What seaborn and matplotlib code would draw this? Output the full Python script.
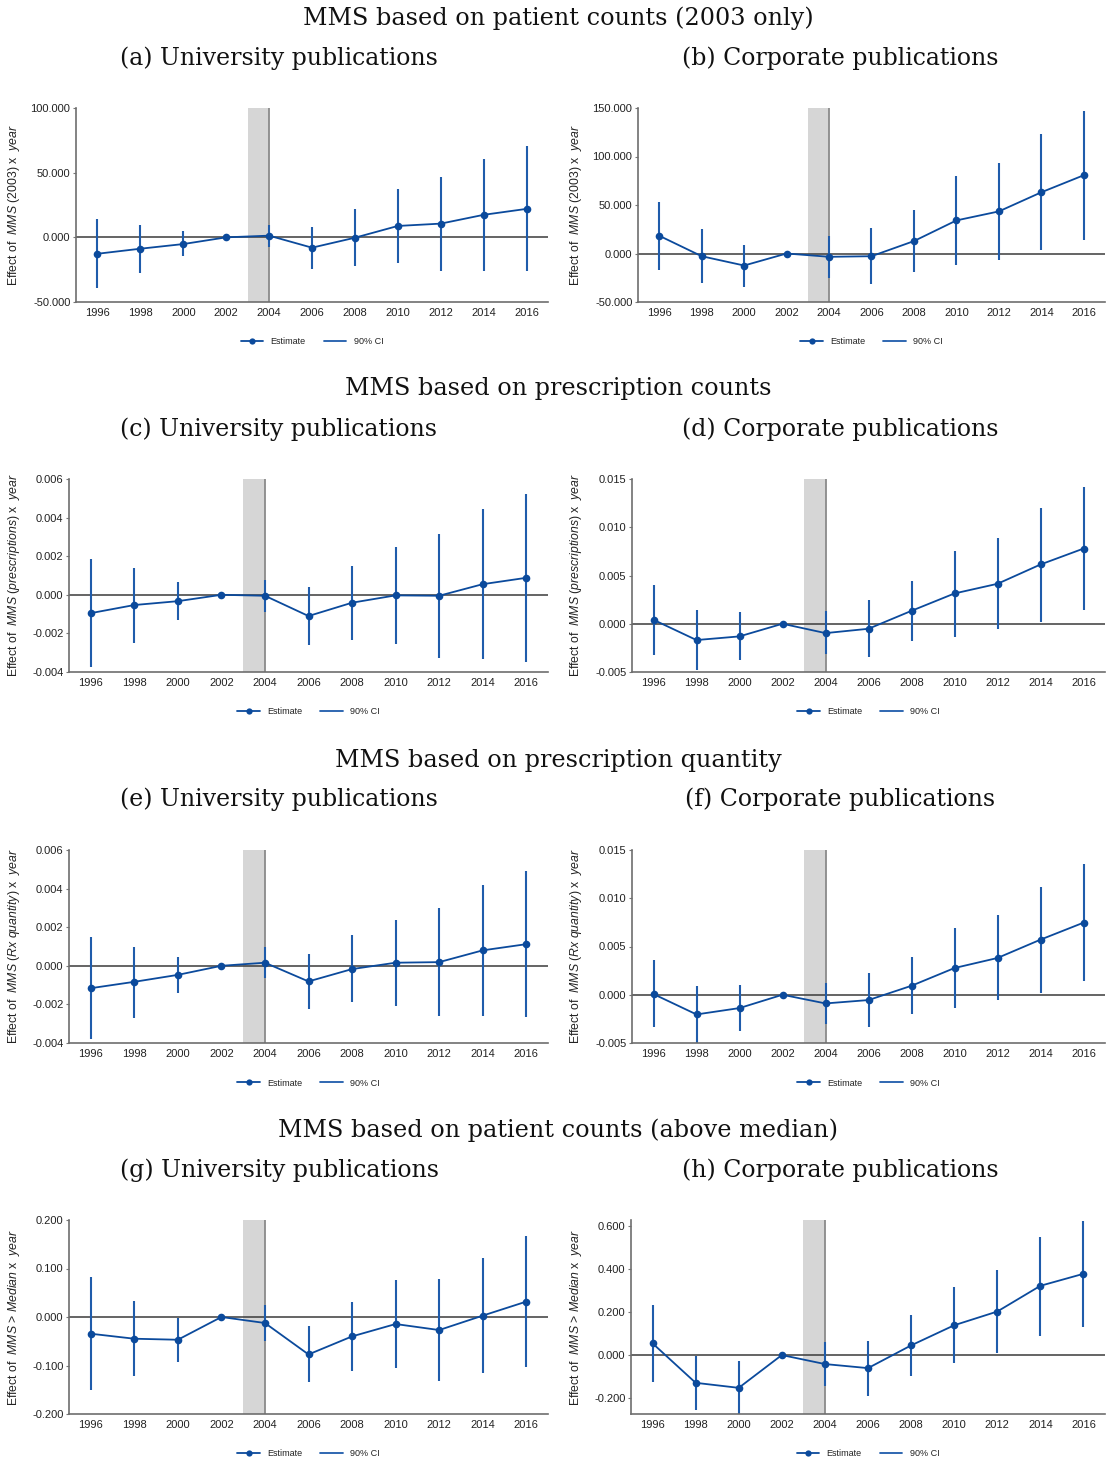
import numpy as np
import pandas as pd
import seaborn as sns
import matplotlib
matplotlib.use("Agg")
import matplotlib.pyplot as plt
import matplotlib.transforms as mtransforms
from matplotlib.lines import Line2D
from matplotlib.ticker import FormatStrFormatter, FixedLocator

# Event-study coefficients (relative to 2002) with 90% confidence bounds
years = [1996, 1998, 2000, 2002, 2004, 2006, 2008, 2010, 2012, 2014, 2016]

# (a) patient counts 2003, university
a_est = [-12.7, -8.8, -5.2, 0, 1.3, -8.0, -0.3, 8.8, 10.6, 17.4, 22.0]
a_lo = [-39.4, -27.5, -14.8, 0, -7.8, -24.4, -21.8, -20.0, -26.2, -26.2, -26.2]
a_hi = [14.0, 9.8, 4.7, 0, 9.8, 8.0, 21.8, 37.6, 46.9, 60.4, 70.7]

# (b) patient counts 2003, corporate
b_est = [18.3, -2.8, -12.4, 0, -3.4, -2.8, 12.8, 34.1, 43.4, 63.1, 80.7]
b_lo = [-16.9, -30.3, -34.1, 0, -25.2, -31.4, -19.0, -11.7, -6.2, 3.1, 14.1]
b_hi = [53.1, 25.2, 9.0, 0, 17.9, 26.2, 44.8, 80.0, 93.1, 123.4, 147.2]

# (c) prescription counts, university
c_est = [-0.00095, -0.00053, -0.00033, 0, -0.00005, -0.0011, -0.00041, -0.00003, -0.00005, 0.00055, 0.00088]
c_lo = [-0.00374, -0.00252, -0.00131, 0, -0.00088, -0.0026, -0.00233, -0.00255, -0.00328, -0.00333, -0.00348]
c_hi = [0.00183, 0.00141, 0.00066, 0, 0.00076, 0.00038, 0.0015, 0.00247, 0.00317, 0.00445, 0.00524]

# (d) prescription counts, corporate
d_est = [0.00041, -0.00169, -0.00131, 0, -0.00097, -0.00052, 0.00134, 0.00314, 0.00414, 0.00614, 0.00779]
d_lo = [-0.0032, -0.0048, -0.0038, 0, -0.00317, -0.00348, -0.00183, -0.00134, -0.00059, 0.0002, 0.00138]
d_hi = [0.00403, 0.00141, 0.00117, 0, 0.00128, 0.00241, 0.00445, 0.00759, 0.00886, 0.012, 0.0142]

# (e) prescription quantity, university
e_est = [-0.00116, -0.00083, -0.00047, 0, 0.00016, -0.00081, -0.00017, 0.00016, 0.00019, 0.0008, 0.00112]
e_lo = [-0.00379, -0.0027, -0.00142, 0, -0.00064, -0.00223, -0.00185, -0.00209, -0.00261, -0.00258, -0.00265]
e_hi = [0.0015, 0.001, 0.00047, 0, 0.00095, 0.00059, 0.00157, 0.00239, 0.00301, 0.00417, 0.00491]

# (f) prescription quantity, corporate
f_est = [0.00007, -0.00204, -0.00138, 0, -0.0009, -0.00055, 0.00093, 0.00277, 0.00381, 0.00571, 0.00747]
f_lo = [-0.00339, -0.0051, -0.00377, 0, -0.00304, -0.00336, -0.00204, -0.00142, -0.00059, 0.00017, 0.00142]
f_hi = [0.00356, 0.0009, 0.00097, 0, 0.00121, 0.00225, 0.00388, 0.00696, 0.00824, 0.01118, 0.01353]

# (g) patient counts above median, university
g_est = [-0.0345, -0.0448, -0.0469, 0, -0.0124, -0.0772, -0.040, -0.0145, -0.0269, 0.0028, 0.0317]
g_lo = [-0.150, -0.122, -0.0938, 0, -0.049, -0.1345, -0.111, -0.105, -0.1317, -0.1145, -0.1028]
g_hi = [0.0828, 0.0331, -0.0014, 0, 0.0248, -0.0193, 0.0317, 0.0759, 0.078, 0.1207, 0.1676]

# (h) patient counts above median, corporate
h_est = [0.0546, -0.1295, -0.153, 0, -0.042, -0.061, 0.045, 0.139, 0.203, 0.323, 0.379]
h_lo = [-0.126, -0.256, -0.2746, 0, -0.1435, -0.189, -0.10, -0.039, 0.0078, 0.089, 0.1295]
h_hi = [0.234, -0.003, -0.0296, 0, 0.059, 0.064, 0.189, 0.318, 0.399, 0.551, 0.627]

row_titles = [
    "MMS based on patient counts (2003 only)",
    "MMS based on prescription counts",
    "MMS based on prescription quantity",
    "MMS based on patient counts (above median)",
]
sub_titles = [
    "(a) University publications", "(b) Corporate publications",
    "(c) University publications", "(d) Corporate publications",
    "(e) University publications", "(f) Corporate publications",
    "(g) University publications", "(h) Corporate publications",
]
y_labels = [
    r"Effect of  $\mathit{MMS\ (2003)}$ x  $\mathit{year}$",
    r"Effect of  $\mathit{MMS\ (prescriptions)}$ x  $\mathit{year}$",
    r"Effect of  $\mathit{MMS\ (Rx\ quantity)}$ x  $\mathit{year}$",
    r"Effect of  $\mathit{MMS}$ > $\mathit{Median}$ x  $\mathit{year}$",
]
legend_labels = ["Estimate", "90% CI"]

sns.set_theme(style="white")
plt.rcParams["font.family"] = ["Liberation Sans", "DejaVu Sans"]
plt.rcParams["axes.unicode_minus"] = False
plt.rcParams["mathtext.fontset"] = "custom"
plt.rcParams["mathtext.it"] = "Liberation Sans:italic"
plt.rcParams["mathtext.rm"] = "Liberation Sans"

EST_COLOR = "#0b4a9c"
CI_COLOR = "#1f5cab"
W, H = 1106, 1460

fig = plt.figure(figsize=(W / 100, H / 100), dpi=100)

panels = [
    (a_est, a_lo, a_hi, (-50, 100), [-50, 0, 50, 100]),
    (b_est, b_lo, b_hi, (-50, 150), [-50, 0, 50, 100, 150]),
    (c_est, c_lo, c_hi, (-0.004, 0.006), [-0.004, -0.002, 0, 0.002, 0.004, 0.006]),
    (d_est, d_lo, d_hi, (-0.005, 0.015), [-0.005, 0, 0.005, 0.010, 0.015]),
    (e_est, e_lo, e_hi, (-0.004, 0.006), [-0.004, -0.002, 0, 0.002, 0.004, 0.006]),
    (f_est, f_lo, f_hi, (-0.005, 0.015), [-0.005, 0, 0.005, 0.010, 0.015]),
    (g_est, g_lo, g_hi, (-0.2, 0.2), [-0.2, -0.1, 0, 0.1, 0.2]),
    (h_est, h_lo, h_hi, (-0.275, 0.63), [-0.2, 0, 0.2, 0.4, 0.6]),
]

# pixel layout of each panel: left edge, right edge; rows share top/bottom
lefts = [76, 638, 69, 632, 69, 632, 69, 631]
rights = [548, 1105, 548, 1105, 548, 1105, 548, 1105]
row_top = [108, 479, 850, 1220]
row_bot = [302, 672, 1043, 1414]
row_title_y = [18, 389, 760, 1130]
sub_title_y = [58, 429, 799, 1170]
ylabel_x = [22, 584]
sub_x = [279, 840]

for i, (est, lo, hi, ylim, yticks) in enumerate(panels):
    r, c = divmod(i, 2)
    l, rr = lefts[i], rights[i]
    t, b = row_top[r], row_bot[r]
    ax = fig.add_axes([l / W, 1 - b / H, (rr - l) / W, (b - t) / H])

    ax.axvspan(2003, 2004, color="#d6d6d6", lw=0, zorder=0)
    ax.axvline(2004, color="#8a8a8a", lw=1.3, zorder=1)
    ax.axhline(0, color="#3a3a3a", lw=1.1, zorder=1.5)

    df = pd.DataFrame({"year": years, "est": est, "lo": lo, "hi": hi})
    ci = df[df["lo"] != df["hi"]]
    ax.vlines(ci["year"], ci["lo"], ci["hi"], color=CI_COLOR, lw=1.5, zorder=2)
    sns.lineplot(data=df, x="year", y="est", ax=ax, color=EST_COLOR, lw=1.3,
                 marker="o", markersize=5.5, markeredgewidth=0, zorder=3,
                 legend=False)

    ax.set_xlim(1995, 2017)
    ax.set_ylim(*ylim)
    ax.set_xticks(years)
    ax.yaxis.set_major_locator(FixedLocator(yticks))
    ax.yaxis.set_major_formatter(FormatStrFormatter("%.3f"))
    ax.tick_params(axis="both", labelsize=8, labelcolor="#222222", length=2,
                   width=0.8, color="#777777", pad=2, left=True, bottom=False)
    for s in ["top", "right"]:
        ax.spines[s].set_visible(False)
    for s in ["left", "bottom"]:
        ax.spines[s].set_color("#6e6e6e")
        ax.spines[s].set_linewidth(1.2)
    ax.set_xlabel("")
    ax.set_ylabel(y_labels[r], fontsize=8.8, color="#222222")
    ax.yaxis.set_label_coords(
        ylabel_x[c] / W, 0.5,
        transform=mtransforms.blended_transform_factory(fig.transFigure, ax.transAxes))

    handles = [
        Line2D([], [], color=EST_COLOR, lw=1.3, marker="o", markersize=4.5,
               markeredgewidth=0),
        Line2D([], [], color=CI_COLOR, lw=1.3),
    ]
    ax.legend(handles, legend_labels, loc="center",
              bbox_to_anchor=(0.5, -40 / (b - t)), ncol=2, frameon=False,
              fontsize=6.5, handlelength=2.5, columnspacing=2.0,
              handletextpad=0.8, labelcolor="#222222")

    fig.text(sub_x[c] / W, 1 - sub_title_y[r] / H, sub_titles[i],
             family="DejaVu Serif", fontsize=17, ha="center", va="center",
             color="#111111")

for r in range(4):
    fig.text(558 / W, 1 - row_title_y[r] / H, row_titles[r],
             family="DejaVu Serif", fontsize=17.2, ha="center", va="center",
             color="#111111")

fig.savefig("out.png", dpi=100)
